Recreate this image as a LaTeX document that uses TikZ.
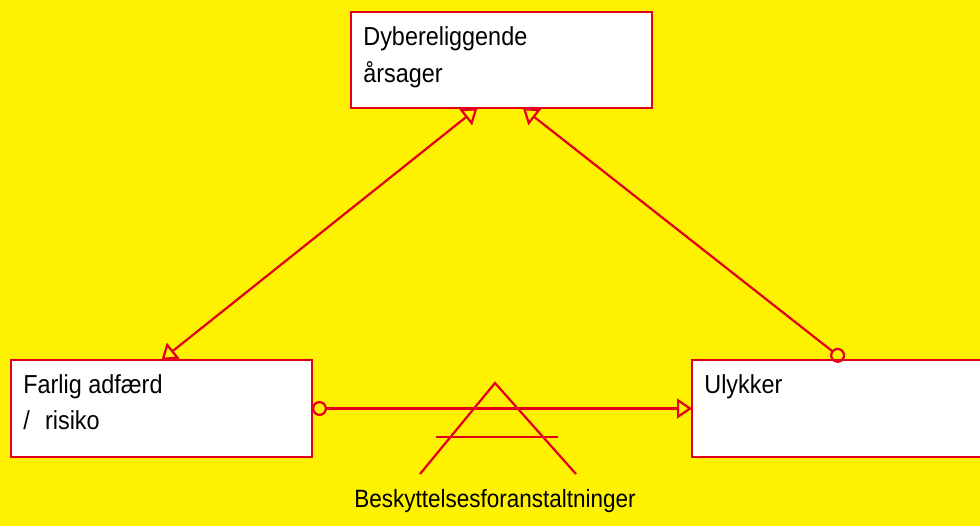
\documentclass[tikz,border=0pt]{standalone}
\usepackage{fontspec}
\setmainfont{Liberation Sans}[FakeStretch=0.9]
\usetikzlibrary{arrows.meta,calc}
\definecolor{bgyellow}{HTML}{FFF200}
\definecolor{linered}{HTML}{E2001A}
\begin{document}
\begin{tikzpicture}[x=0.5pt,y=-0.5pt,
  box/.style={draw=linered, fill=white, line width=1.1pt, inner sep=0pt, outer sep=0pt, anchor=north west},
  lbl/.style={inner sep=0pt, anchor=base west, font=\fontsize{13pt}{15pt}\selectfont},
  conn/.style={draw=linered, line width=1.1pt},
  otri/.tip={Triangle[open,length=7.5pt,width=10pt]},
  ocirc/.tip={Circle[open,length=7.5pt]},
  ]
\useasboundingbox (0,0) rectangle (980,526);
\clip (0,0) rectangle (980,526);
\fill[bgyellow] (0,0) rectangle (980,526);
% boxes
\node[box, minimum width=150.5pt, minimum height=48pt] (top) at (351,12) {};
\node[box, minimum width=150.5pt, minimum height=48.5pt] (left) at (11,360) {};
\node[box, minimum width=151.5pt, minimum height=48.5pt] (right) at (692,360) {};
% texts
\node[lbl] (t1) at ($(top.north west)+(12,33)$) {Dybereliggende};
\node[lbl] (t2) at ($(top.north west)+(12,70)$) {årsager};
\node[lbl] (l1) at ($(left.north west)+(12,33)$) {Farlig adfærd};
\node[lbl] (l2) at ($(left.north west)+(12,69)$) {/\,\, risiko};
\node[lbl] (r1) at ($(right.north west)+(12,33)$) {Ulykker};
% connectors
\coordinate (topA) at ($(top.south west)!0.42!(top.south east)$);
\coordinate (topB) at ($(top.south west)!0.571!(top.south east)$);
\draw[conn, otri-otri] (left.north) -- (topA);
\draw[conn, ocirc-otri] (right.north) -- (topB);
\draw[conn, ocirc-otri] (left.east) -- (right.west);
% barrier symbol
\coordinate (apex) at (495,383);
\coordinate (bl) at (420,474);
\coordinate (br) at (576,474);
\coordinate (barl) at (436,437);
\coordinate (barr) at (558,437);
\draw[conn] (bl) -- (apex) -- (br);
\draw[conn] (barl) -- (barr);
\node[inner sep=0pt, anchor=base, font=\fontsize{12.5pt}{15pt}\selectfont] (bt) at (495,507) {Beskyttelsesforanstaltninger};
\end{tikzpicture}
\end{document}
